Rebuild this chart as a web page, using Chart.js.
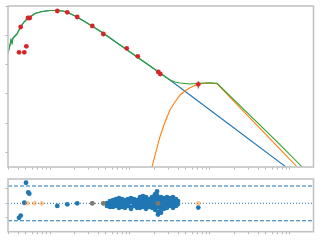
<!DOCTYPE html>
<html>
<head>
<meta charset="utf-8">
<script src="https://cdn.jsdelivr.net/npm/chart.js@4"></script>
<style>
  html, body { margin: 0; padding: 0; background: #fff; }
  #wrap { position: relative; width: 320px; height: 240px; }
  canvas { position: absolute; left: 0; }
</style>
</head>
<body>
<div id="wrap">
  <canvas id="sed" width="320" height="175" style="top:0;width:320px;height:175px"></canvas>
  <canvas id="resid" width="320" height="65" style="top:175px;width:320px;height:65px"></canvas>
</div>
<script>
// tick positions (no labels shown in the original)
const xTicks = [0.3, 0.4, 0.5, 0.6, 0.7, 0.8, 0.9,
  1, 2, 3, 4, 5, 6, 7, 8, 9,
  10, 20, 30, 40, 50, 60, 70, 80, 90,
  100, 200, 300, 400, 500, 600, 700, 800, 900, 1000];
const yTicks = [1, 10, 100, 1000, 10000, 100000];
const resTicks = [-2.5, 0, 2.5];

// measured points (red)
const redX = [0.41, 0.477, 0.506, 0.43, 0.531, 0.557, 1.234, 1.645, 2.19, 3.38, 4.64, 9.1, 12.5, 22.6, 23.9, 71.4];
const redY = [2685, 2685, 4315, 19800, 40300, 40300, 70100, 63200, 43600, 21400, 11400, 3680, 1960, 566, 483, 214];
const redErr = [200, 200, 300, 1500, 3000, 3000, 5000, 4500, 3000, 1500, 800, 250, 130, 40, 35, 60];

// low frequency component (shared by blue and green)
const lowX = [0.2985, 0.316, 0.3256, 0.335, 0.3448, 0.365, 0.387, 0.4217, 0.473, 0.516, 0.562, 0.649, 0.794,
  1.0, 1.223, 1.454, 1.631, 2.175, 3.35, 4.6, 10, 31.6];
const lowY = [2540, 4775, 7100, 5600, 8300, 9730, 11400, 18300, 29400, 37200, 43600, 57500, 67300,
  72900, 72900, 70100, 64800, 43600, 21400, 12300, 2750, 301];
const blueTailX = [178, 1000];
const blueTailY = [8.6, 0.246];
const greenTailX = [36.5, 42.2, 56.2, 75, 100, 122.3, 237, 422, 750, 1400, 1800];
const greenTailY = [257, 238, 219, 232, 241, 232, 39.5, 8.47, 1.82, 0.325, 0.12];

// peaked component (orange)
const orangeX = [17.8, 18.84, 20.5, 23.7, 27.4, 31.6, 36.5, 42.2, 48.7, 56.2, 70.8, 91.7, 122.3, 237, 422, 750, 1213, 1500];
const orangeY = [0.173, 0.312, 0.77, 3.41, 10.9, 28.1, 53, 92, 126, 164, 219, 238, 225, 34, 6.58, 1.27, 0.325, 0.14];

// residuals
const resX = [0.41, 0.43, 0.477, 0.501, 0.535, 0.551, 1.234, 1.645, 2.19, 3.38, 4.64, 71.4];
const resY = [-2.5, -2.12, 0.1, 3.55, 1.88, 1.67, -0.45, -0.17, 0, 0, 0, -0.73];
const blobX = [5.16, 5.62, 6.13, 6.68, 7.29, 7.94, 8.66, 9.44, 10.29, 11.22, 12.23, 13.34, 14.54,
  15.85, 17.28, 18.84, 20.54, 21.76, 22.39, 24.41, 26.61, 29.0, 31.62, 34.47, 37.58, 39.8];
const blobR = [
  [0.05, -0.45], [0.38, -0.28, -0.62], [0.55, -0.12, -0.62], [0.72, 0.05, -0.45],
  [0.88, 0.22, -0.45, -0.78], [0.72, 0.05, -0.62], [0.55, -0.12, -0.78], [0.72, 0.05, -0.45],
  [0.88, 0.22, -0.62, -0.95], [0.72, 0.05, -0.45], [0.55, -0.12, -0.78], [1.05, 0.38, -0.28, -0.78],
  [1.22, 0.55, -0.12, -0.62], [1.05, 0.38, -0.28, -0.95], [0.72, 0.05, -0.62], [1.05, 0.38, -0.12, -0.78],
  [1.55, 0.88, 0.22, -0.45, -1.12], [2.05, 1.38], [0.72, 0.05, -0.62, -1.45, -1.95],
  [1.05, 0.38, -0.28, -0.95, -1.62], [0.88, 0.22, -0.45, -0.95], [1.05, 0.38, -0.28, -0.78],
  [0.88, 0.22, -0.45], [1.05, 0.38, -0.28, -0.78], [0.72, 0.05, -0.45], [0.38, -0.12]
];
const limX = [0.52, 0.637, 0.788, 3.38, 4.64, 22.4, 71.4];
const limY = [0, 0, 0, 0, 0, 0, 0];
const sigma = 3;

const X_MIN = 0.2985, X_MAX = 1968;

const pts = (xs, ys) => xs.map((x, i) => ({ x: x, y: ys[i] }));

// spines drawn round the plot area
const frame = {
  id: 'frame',
  afterDatasetsDraw(chart) {
    const { ctx, chartArea: a } = chart;
    ctx.save();
    ctx.strokeStyle = '#c3c3c3';
    ctx.lineWidth = 1.6;
    ctx.strokeRect(a.left, a.top, a.right - a.left, a.bottom - a.top);
    ctx.restore();
  }
};

// vertical error bars for the red points
const errbars = {
  id: 'errbars',
  afterDatasetsDraw(chart) {
    const { ctx, scales: { x, y } } = chart;
    ctx.save();
    ctx.strokeStyle = '#d62728';
    ctx.lineWidth = 1;
    redX.forEach((v, i) => {
      const px = x.getPixelForValue(v);
      ctx.beginPath();
      ctx.moveTo(px, y.getPixelForValue(redY[i] - redErr[i]));
      ctx.lineTo(px, y.getPixelForValue(redY[i] + redErr[i]));
      ctx.stroke();
    });
    ctx.restore();
  }
};

function xAxis(h) {
  return {
    type: 'logarithmic', min: X_MIN, max: X_MAX, bounds: 'data',
    ticks: { display: false },
    grid: { drawOnChartArea: false, drawTicks: true, tickLength: 2.5, tickColor: '#b4b4b4' },
    border: { display: false },
    afterBuildTicks: s => { s.ticks = xTicks.map(v => ({ value: v })); },
    afterFit: s => { s.height = h; }
  };
}

function line(data, color, order) {
  return { data: data, showLine: true, borderColor: color, borderWidth: 1.1,
    pointRadius: 0, fill: false, tension: 0, order: order };
}

const common = {
  responsive: false,
  animation: false,
  devicePixelRatio: 1,
  plugins: { legend: { display: false }, tooltip: { enabled: false } }
};

new Chart(document.getElementById('sed'), {
  type: 'scatter',
  data: {
    datasets: [
      { data: pts(redX, redY), pointRadius: 2.4, pointBackgroundColor: '#d62728', pointBorderWidth: 0, order: 0 },
      line(pts(lowX.concat(greenTailX), lowY.concat(greenTailY)), '#2ca02c', 1),
      line(pts(orangeX, orangeY), '#ff7f0e', 2),
      line(pts(lowX.concat(blueTailX), lowY.concat(blueTailY)), '#1f77b4', 3)
    ]
  },
  options: Object.assign({}, common, {
    layout: { padding: { top: 6, right: 6.5, bottom: 0, left: 0 } },
    scales: {
      x: xAxis(8),
      y: {
        type: 'logarithmic', min: 0.312, max: 104000, bounds: 'data',
        ticks: { display: false },
        grid: { drawOnChartArea: false, drawTicks: true, tickLength: 2.5, tickColor: '#b4b4b4' },
        border: { display: false },
        afterBuildTicks: s => { s.ticks = yTicks.map(v => ({ value: v })); },
        afterFit: s => { s.width = 8; }
      }
    }
  }),
  plugins: [errbars, frame]
});

const blob = blobX.flatMap((x, i) => blobR[i].map(r => ({ x: x, y: r })));

new Chart(document.getElementById('resid'), {
  type: 'scatter',
  data: {
    datasets: [
      { data: pts(limX, limY), pointRadius: 2.4, pointBackgroundColor: 'rgba(255,127,14,0.45)', pointBorderWidth: 0, order: 0 },
      { data: pts(resX, resY).concat(blob), pointRadius: 2.4, pointBackgroundColor: '#1f77b4', pointBorderWidth: 0, order: 1 },
      Object.assign(line(pts([X_MIN, X_MAX], [sigma, sigma]), '#1f77b4', 2), { borderDash: [4, 2] }),
      Object.assign(line(pts([X_MIN, X_MAX], [-sigma, -sigma]), '#1f77b4', 2), { borderDash: [4, 2] }),
      Object.assign(line(pts([X_MIN, X_MAX], [0, 0]), '#1f77b4', 3), { borderDash: [1, 2], borderWidth: 1 })
    ]
  },
  options: Object.assign({}, common, {
    layout: { padding: { top: 2, right: 6.5, bottom: 0, left: 0 } },
    scales: {
      x: xAxis(8.3),
      y: {
        type: 'linear', min: -4.9, max: 4.2, bounds: 'data',
        ticks: { display: false },
        grid: { drawOnChartArea: false, drawTicks: true, tickLength: 2.5, tickColor: '#b4b4b4' },
        border: { display: false },
        afterBuildTicks: s => { s.ticks = resTicks.map(v => ({ value: v })); },
        afterFit: s => { s.width = 8; }
      }
    }
  }),
  plugins: [frame]
});
</script>
</body>
</html>
